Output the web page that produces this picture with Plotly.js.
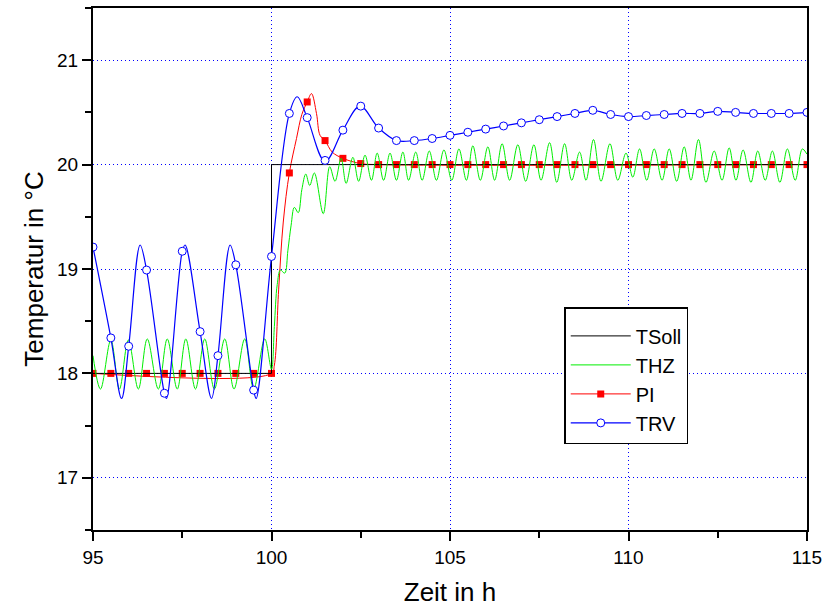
<!DOCTYPE html>
<html>
<head>
<meta charset="utf-8">
<script src="https://cdn.plot.ly/plotly-3.0.1.min.js"></script>
<style>html,body{margin:0;padding:0;background:#fff;}#chart{width:825px;height:609px;}</style>
</head>
<body>
<div id="chart"></div>
<script>
// ---- Data ----
const tsollX = [95, 100, 100, 115];
const tsollY = [18, 18, 20, 20];

const thzX = [95.00,95.21,95.50,95.74,95.99,96.27,96.52,96.83,97.08,97.36,97.60,97.87,98.13,98.40,98.69,98.95,99.25,99.50,99.81,
  100.00,100.08,100.16,100.25,100.37,100.46,100.55,100.64,100.75,100.85,100.96,101.07,101.20,101.45,101.63,101.78,101.95,
  102.09,102.28,102.44,102.62,102.80,102.96,103.14,103.32,103.50,103.68,103.84,104.04,104.22,104.42,104.62,104.83,
  105.05,105.25,105.46,105.64,105.85,106.06,106.25,106.46,106.67,106.90,107.12,107.35,107.55,107.79,107.99,108.21,
  108.41,108.63,108.81,109.02,109.23,109.48,109.70,109.93,110.12,110.31,110.51,110.72,110.94,111.14,111.35,111.56,
  111.75,111.96,112.17,112.40,112.62,112.82,113.01,113.21,113.43,113.62,113.83,114.03,114.24,114.45,114.67,114.87,115.00];
const thzY = [18.17,17.85,18.32,17.85,18.32,17.85,18.33,17.85,18.33,17.85,18.33,17.85,18.33,17.85,18.33,17.85,18.33,17.85,18.33,
  18.04,18.45,18.85,18.99,18.96,19.18,19.42,19.59,19.54,19.76,19.91,19.80,19.92,19.53,19.98,19.84,20.06,
  19.82,20.07,19.84,20.09,19.85,20.11,19.85,20.11,19.85,20.12,19.85,20.12,19.85,20.13,19.85,20.14,
  19.85,20.15,19.85,20.18,19.85,20.17,19.85,20.20,19.85,20.19,19.84,20.19,19.85,20.21,19.83,20.20,
  19.85,20.12,19.85,20.24,19.84,20.20,19.85,20.11,19.88,20.15,19.85,20.15,19.85,20.15,19.84,20.17,
  19.85,20.24,19.83,20.13,19.85,20.16,19.85,20.14,19.83,20.13,19.85,20.13,19.83,20.15,19.85,20.15,20.10];

// PI: smooth line points and its marker samples (every 0.5 h)
const piLineX = [95, 100, 100.08, 100.2, 100.33, 100.5, 100.7, 100.85, 101.0, 101.12, 101.26, 101.36, 101.5, 101.7, 102.0, 102.5, 103.0, 115];
const piLineY = [18, 18, 18.08, 18.8, 19.45, 19.92, 20.25, 20.48, 20.60, 20.68, 20.49, 20.28, 20.23, 20.12, 20.06, 20.01, 20.0, 20.0];
const markX = [95,95.5,96,96.5,97,97.5,98,98.5,99,99.5,100,100.5,101,101.5,102,102.5,103,103.5,104,104.5,
  105,105.5,106,106.5,107,107.5,108,108.5,109,109.5,110,110.5,111,111.5,112,112.5,113,113.5,114,114.5,115];
const piMarkY = [18,18,18,18,18,18,18,18,18,18,18,19.92,20.60,20.23,20.06,20.01,20,20,20,20,
  20,20,20,20,20,20,20,20,20,20,20,20,20,20,20,20,20,20,20,20,20];

// TRV: smooth line points and marker samples
const trvLineX = [95.0,95.5,95.80,96.0,96.32,96.5,97.0,97.06,97.5,97.58,98.0,98.32,98.5,98.84,99.0,99.5,99.57,
  100.0,100.5,100.72,101.0,101.5,102.0,102.48,103.0,103.5,104.0,104.5,105,105.5,106,106.5,107,107.5,108,108.5,
  109,109.5,110,110.5,111,111.5,112,112.5,113,113.5,114,114.5,115];
const trvLineY = [19.21,18.34,17.76,18.26,19.23,18.99,17.81,17.76,19.17,19.23,18.40,17.76,18.17,19.23,19.04,17.84,17.76,
  19.12,20.49,20.65,20.45,20.03,20.33,20.56,20.35,20.23,20.23,20.25,20.28,20.31,20.34,20.37,20.40,20.43,20.46,20.49,
  20.52,20.48,20.46,20.47,20.48,20.49,20.49,20.51,20.50,20.49,20.49,20.49,20.50];
const trvMarkY = [19.21,18.34,18.26,18.99,17.81,19.17,18.40,18.17,19.04,17.84,19.12,20.49,20.45,20.04,20.33,20.56,20.35,20.23,20.23,20.25,
  20.28,20.31,20.34,20.37,20.40,20.43,20.46,20.49,20.52,20.48,20.46,20.47,20.48,20.49,20.49,20.51,20.50,20.49,20.49,20.49,20.50];

const xTicks = [95, 100, 105, 110, 115];
const yTicks = [17, 18, 19, 20, 21];
const names = ['TSoll', 'THZ', 'PI', 'TRV'];

// ---- Styles ----
const RED = '#ff0000', GREEN = '#00ee00', BLUE = '#0000ff', BLACK = '#000000';
const FONT = 'Arial, "Liberation Sans", sans-serif';

const traces = [
  {x: piLineX, y: piLineY, mode: 'lines', line: {color: RED, width: 1, shape: 'spline'}, showlegend: false, hoverinfo: 'skip'},
  {x: markX, y: piMarkY, mode: 'markers', marker: {symbol: 'square', size: 7, color: RED}, showlegend: false},
  {x: tsollX, y: tsollY, mode: 'lines', name: names[0], line: {color: BLACK, width: 1}, legendrank: 1},
  {x: thzX, y: thzY, mode: 'lines', name: names[1], line: {color: GREEN, width: 1, shape: 'spline'}, legendrank: 2},
  {x: trvLineX, y: trvLineY, mode: 'lines', line: {color: BLUE, width: 1.2, shape: 'spline'}, showlegend: false, hoverinfo: 'skip'},
  {x: markX, y: trvMarkY, mode: 'markers', marker: {symbol: 'circle', size: 8, color: '#ffffff', line: {color: BLUE, width: 1}}, showlegend: false},
  {x: [null], y: [null], mode: 'lines+markers', name: names[2], line: {color: RED, width: 1}, marker: {symbol: 'square', size: 7, color: RED}, legendrank: 3},
  {x: [null], y: [null], mode: 'lines+markers', name: names[3], line: {color: BLUE, width: 1.2}, marker: {symbol: 'circle', size: 8, color: '#ffffff', line: {color: BLUE, width: 1}}, legendrank: 4}
];

const axisCommon = {
  showline: true, linecolor: BLACK, linewidth: 2, mirror: true,
  ticks: 'outside', ticklen: 9, tickwidth: 2, tickcolor: BLACK,
  showgrid: true, gridcolor: BLUE, gridwidth: 1, griddash: '1px,3px',
  zeroline: false, tickfont: {family: FONT, size: 19, color: BLACK}
};

const layout = {
  width: 825, height: 609,
  margin: {l: 93, r: 18, t: 8, b: 79},
  paper_bgcolor: '#ffffff', plot_bgcolor: '#ffffff',
  showlegend: true,
  xaxis: Object.assign({}, axisCommon, {
    range: [95, 115], tickvals: xTicks, ticktext: xTicks.map(String),
    minor: {dtick: 2.5, tick0: 95, ticks: 'outside', ticklen: 6, tickwidth: 2, tickcolor: BLACK, showgrid: false},
    title: {text: 'Zeit in h', font: {family: FONT, size: 26, color: BLACK}, standoff: 16}
  }),
  yaxis: Object.assign({}, axisCommon, {
    range: [16.5, 21.5], tickvals: yTicks, ticktext: yTicks.map(String),
    minor: {dtick: 0.5, tick0: 16.5, ticks: 'outside', ticklen: 6, tickwidth: 2, tickcolor: BLACK, showgrid: false},
    title: {text: 'Temperatur in °C', font: {family: FONT, size: 26, color: BLACK}, standoff: 6}
  }),
  legend: {
    x: 0.66, y: 0.427, xanchor: 'left', yanchor: 'top',
    bgcolor: '#ffffff', bordercolor: BLACK, borderwidth: 1.5,
    font: {family: FONT, size: 20, color: BLACK},
    title: {text: ' ', font: {size: 6}},
    traceorder: 'normal', itemwidth: 60
  }
};

Plotly.newPlot('chart', traces, layout, {staticPlot: true, displayModeBar: false});
</script>
</body>
</html>
